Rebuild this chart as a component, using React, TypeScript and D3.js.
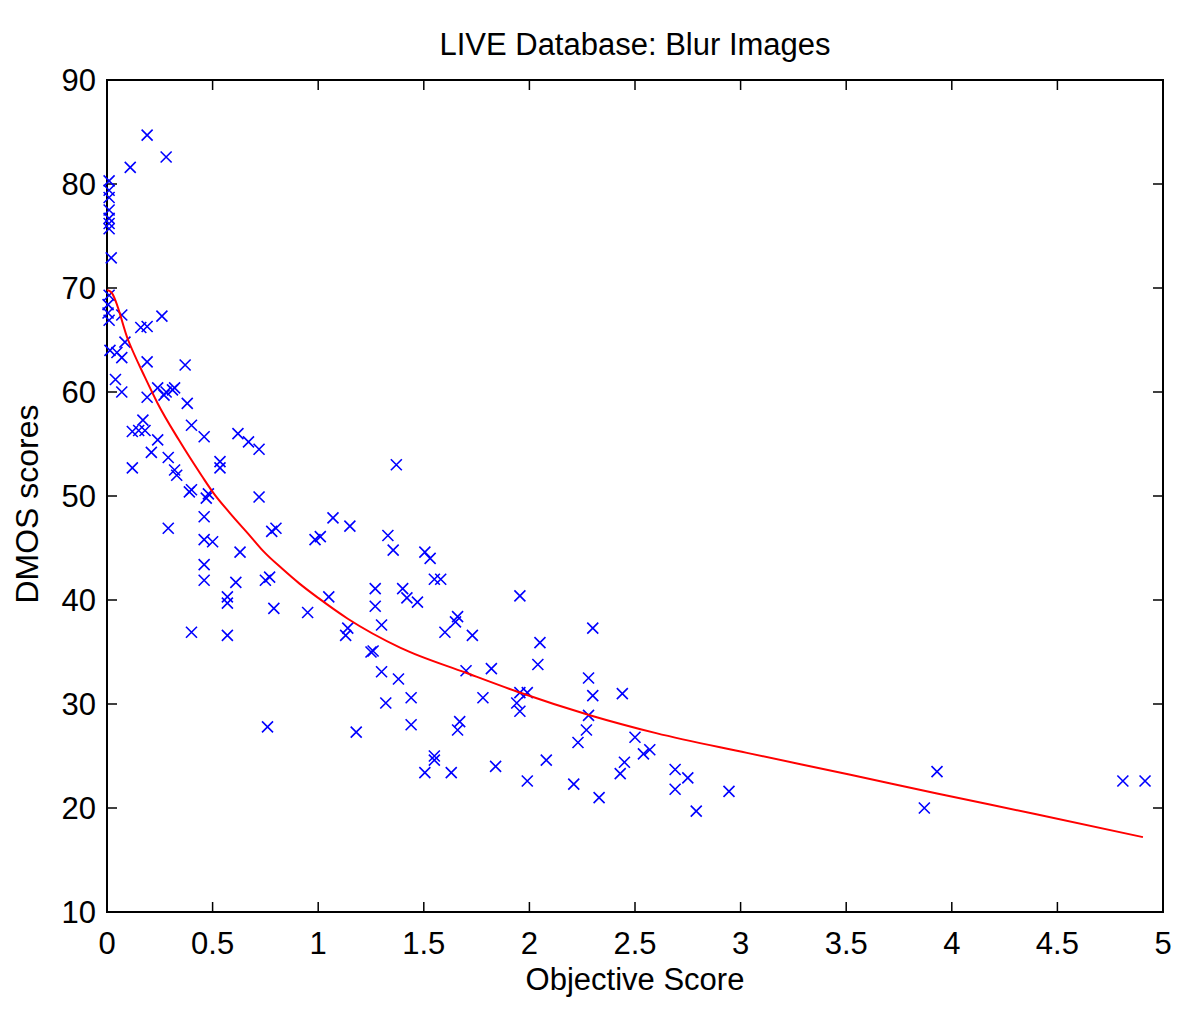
import React from "react";
import * as d3 from "d3";

const title = "LIVE Database: Blur Images";
const xLabel = "Objective Score";
const yLabel = "DMOS scores";
const xTicks = [0, 0.5, 1, 1.5, 2, 2.5, 3, 3.5, 4, 4.5, 5];
const yTicks = [10, 20, 30, 40, 50, 60, 70, 80, 90];

const scatterX = [
  0.01, 0.01, 0.01, 0.01, 0.01, 0.01, 0.01, 0.02, 0.11, 0.19, 0.28,
  0.01, 0.005, 0.005, 0.01, 0.07, 0.16, 0.19, 0.26, 0.085, 0.014, 0.047, 0.07, 0.19, 0.37, 0.04, 0.07, 0.19, 0.24, 0.28, 0.31, 0.27, 0.32, 0.38,
  0.17, 0.15, 0.12, 0.18, 0.40, 0.46, 0.62, 0.67, 0.72, 0.24, 0.21, 0.29, 0.32, 0.535, 0.535, 0.12, 0.33, 0.39, 0.40, 0.47, 0.48, 0.72,
  0.46, 0.29, 0.80, 0.78, 0.46, 0.50, 0.63, 0.46, 0.46, 0.61, 0.75, 0.77, 0.57, 0.57, 0.79, 0.95, 1.05, 1.07, 1.01, 0.985, 1.15, 0.40, 0.57, 0.76,
  1.37, 1.33, 1.355, 1.505, 1.53, 1.55, 1.58, 1.27, 1.27, 1.40, 1.42, 1.47, 1.14, 1.13, 1.30, 1.26, 1.25, 1.66, 1.65, 1.60, 1.73, 1.30, 1.38, 1.70, 1.82, 1.32, 1.44, 1.78, 1.44, 1.18, 1.67, 1.66, 1.55, 1.55, 1.505, 1.63, 1.84, 2.08, 1.99,
  1.955, 2.30, 2.05, 2.04, 2.28, 2.30, 2.44, 1.955, 1.99, 1.94, 1.955, 2.28, 2.27, 2.23, 2.50, 2.54, 2.57, 2.45, 2.43, 2.21, 2.33, 2.69, 2.75, 2.69, 2.945, 2.79,
  3.93, 3.87, 4.81, 4.915,
];
const scatterY = [
  80.3, 79.4, 78.7, 77.5, 76.7, 76.2, 75.7, 72.9, 81.6, 84.7, 82.6,
  69.3, 68.4, 67.6, 66.9, 67.4, 66.2, 66.3, 67.3, 64.8, 64.0, 63.8, 63.3, 62.9, 62.6, 61.2, 60.0, 59.5, 60.4, 60.0, 60.2, 59.7, 60.4, 58.9,
  57.3, 56.3, 56.2, 56.3, 56.8, 55.7, 56.0, 55.2, 54.5, 55.4, 54.2, 53.7, 52.5, 53.3, 52.7, 52.7, 52.0, 50.4, 50.6, 49.8, 50.2, 49.9,
  48.0, 46.9, 46.9, 46.6, 45.8, 45.6, 44.6, 43.4, 41.9, 41.7, 41.9, 42.2, 40.3, 39.7, 39.2, 38.8, 40.3, 47.9, 46.1, 45.8, 47.1, 36.9, 36.6, 27.8,
  53.0, 46.2, 44.8, 44.6, 44.0, 42.0, 42.0, 41.1, 39.4, 41.1, 40.2, 39.8, 37.3, 36.6, 37.6, 35.1, 35.0, 38.4, 37.9, 36.9, 36.6, 33.1, 32.4, 33.2, 33.4, 30.1, 30.6, 30.6, 28.0, 27.3, 28.3, 27.5, 25.0, 24.6, 23.4, 23.4, 24.0, 24.6, 22.6,
  40.4, 37.3, 35.9, 33.8, 32.5, 30.8, 31.0, 31.1, 31.1, 30.1, 29.3, 28.9, 27.5, 26.3, 26.8, 25.2, 25.6, 24.4, 23.3, 22.3, 21.0, 23.7, 22.9, 21.8, 21.6, 19.7,
  23.5, 20.0, 22.6, 22.6,
];

const fitX = [0, 0.02, 0.1, 0.18, 0.24, 0.34, 0.45, 0.5, 0.58, 0.68, 0.74, 0.83, 0.91, 1.0, 1.14, 1.39, 1.7, 1.94, 2.29, 2.6, 3.03, 3.52, 3.93, 4.4, 4.905];
const fitY = [69.8, 69.6, 65.0, 61.4, 58.9, 55.4, 51.9, 50.4, 48.4, 46.1, 44.7, 43.0, 41.6, 40.2, 38.2, 35.4, 33.0, 31.2, 28.9, 27.2, 25.3, 23.2, 21.4, 19.4, 17.2];

const W = 1200;
const H = 1011;
const L = 107, R = 1163, T = 80, B = 912;
const FONT = "'Liberation Sans', Arial, Helvetica, sans-serif";

export default function App() {
  const x = d3.scaleLinear().domain([0, 5]).range([L, R]);
  const y = d3.scaleLinear().domain([10, 90]).range([B, T]);
  const line = d3
    .line<number>()
    .x((_, i) => x(fitX[i]))
    .y((d) => y(d))
    .curve(d3.curveMonotoneX);
  const tl = 10;
  const ms = 5.5;
  return (
    <svg
      width={W}
      height={H}
      style={{ position: "absolute", left: 0, top: 0, background: "#fff" }}
      fontFamily={FONT}
    >
      <rect x={0} y={0} width={W} height={H} fill="#fff" />
      {xTicks.map((t) => (
        <g key={"xt" + t}>
          <line x1={x(t)} x2={x(t)} y1={B} y2={B - tl} stroke="#000" strokeWidth={1.5} />
          <line x1={x(t)} x2={x(t)} y1={T} y2={T + tl} stroke="#000" strokeWidth={1.5} />
          <text x={x(t)} y={954} textAnchor="middle" fontSize={31} fill="#000">
            {String(t)}
          </text>
        </g>
      ))}
      {yTicks.map((t) => (
        <g key={"yt" + t}>
          <line x1={L} x2={L + tl} y1={y(t)} y2={y(t)} stroke="#000" strokeWidth={1.5} />
          <line x1={R} x2={R - tl} y1={y(t)} y2={y(t)} stroke="#000" strokeWidth={1.5} />
          <text x={96} y={y(t) + 11} textAnchor="end" fontSize={31} fill="#000">
            {String(t)}
          </text>
        </g>
      ))}
      <rect x={L} y={T} width={R - L} height={B - T} fill="none" stroke="#000" strokeWidth={2} />
      {scatterX.map((v, i) => {
        const cx = x(v);
        const cy = y(scatterY[i]);
        return (
          <path
            key={"p" + i}
            d={`M${cx - ms},${cy - ms}L${cx + ms},${cy + ms}M${cx - ms},${cy + ms}L${cx + ms},${cy - ms}`}
            stroke="#0000ff"
            strokeWidth={1.6}
            fill="none"
          />
        );
      })}
      <path d={line(fitY) || ""} fill="none" stroke="#ff0000" strokeWidth={2} />
      <text x={(L + R) / 2} y={55} textAnchor="middle" fontSize={31} fill="#000">
        {title}
      </text>
      <text x={(L + R) / 2} y={990} textAnchor="middle" fontSize={31} fill="#000">
        {xLabel}
      </text>
      <text
        transform={`translate(38, ${(T + B) / 2 + 8}) rotate(-90)`}
        textAnchor="middle"
        fontSize={32}
        fill="#000"
      >
        {yLabel}
      </text>
    </svg>
  );
}
